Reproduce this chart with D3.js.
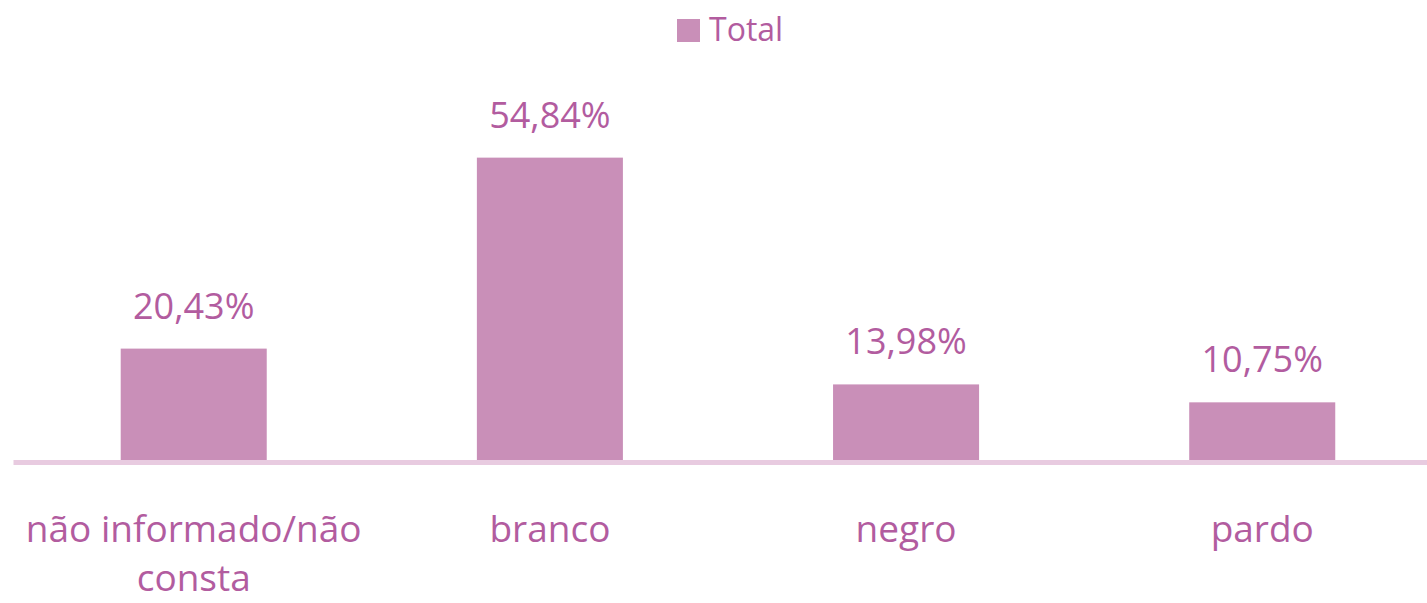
<!DOCTYPE html>
<html>
<head>
<meta charset="utf-8">
<script src="https://cdn.jsdelivr.net/npm/d3@7"></script>
<style>
  body { margin: 0; background: #fff; }
  text { font-family: "Open Sans", sans-serif; }
</style>
</head>
<body>
<script>
// data
var categories = ["não informado/não consta", "branco", "negro", "pardo"];
var totals = [20.43, 54.84, 13.98, 10.75];
var seriesName = "Total";

var W = 1427, H = 603;
var margin = {top: 129, right: 0, bottom: 141, left: 13},
    width = W - margin.left - margin.right,
    height = H - margin.top - margin.bottom;

var barColor = "#c98fb8", textColor = "#b25c9f", axisColor = "#e8cbe0";

var svg = d3.select("body").append("svg")
    .attr("width", W)
    .attr("height", H);

var g = svg.append("g")
    .attr("transform", "translate(" + margin.left + "," + margin.top + ")");

var x = d3.scaleBand().domain(categories).range([0, width])
    .paddingInner(0.59).paddingOuter(0.28).align(0.54);
var y = d3.scaleLinear().domain([0, 60]).range([height, 0]);

var data = categories.map(function(c, i) { return {cat: c, v: totals[i]}; });

g.selectAll(".bar")
    .data(data)
    .enter().append("rect")
    .attr("class", "bar")
    .attr("x", function(d) { return x(d.cat); })
    .attr("y", function(d) { return y(d.v); })
    .attr("width", x.bandwidth())
    .attr("height", function(d) { return height - y(d.v); })
    .style("fill", barColor);

// value labels
g.selectAll(".val")
    .data(data)
    .enter().append("text")
    .attr("class", "val")
    .attr("x", function(d) { return x(d.cat) + x.bandwidth() / 2; })
    .attr("y", function(d) { return y(d.v) - 30; })
    .attr("text-anchor", "middle")
    .style("font-size", "36px")
    .style("fill", textColor)
    .text(function(d) { return d.v.toFixed(2).replace(".", ",") + "%"; });

// x axis
var xAxis = g.append("g")
    .attr("class", "x axis")
    .attr("transform", "translate(0," + height + ")")
    .call(d3.axisBottom(x).tickSize(0).tickPadding(0));

xAxis.select(".domain")
    .attr("stroke", axisColor)
    .attr("stroke-width", 5);

xAxis.selectAll("text")
    .style("font-size", "37px")
    .style("font-family", "Open Sans, sans-serif")
    .attr("fill", textColor)
    .attr("dy", null)
    .attr("y", 80)
    .call(wrap, x.step());

function wrap(texts, w) {
  texts.each(function() {
    var t = d3.select(this), words = t.text().split(/\s+/), line = [], lineNo = 0;
    var yy = t.attr("y");
    var tspan = t.text(null).append("tspan").attr("x", 0).attr("y", yy);
    words.forEach(function(word) {
      line.push(word);
      tspan.text(line.join(" "));
      if (tspan.node().getComputedTextLength() > w && line.length > 1) {
        line.pop();
        tspan.text(line.join(" "));
        line = [word];
        lineNo++;
        tspan = t.append("tspan").attr("x", 0).attr("y", +yy + lineNo * 49).text(word);
      }
    });
  });
}

// legend
var leg = svg.append("g").attr("transform", "translate(677,19)");
leg.append("rect").attr("width", 23).attr("height", 23).style("fill", barColor);
leg.append("text")
    .attr("x", 32).attr("y", 22)
    .style("font-size", "32px")
    .style("fill", textColor)
    .text(seriesName);
</script>
</body>
</html>
